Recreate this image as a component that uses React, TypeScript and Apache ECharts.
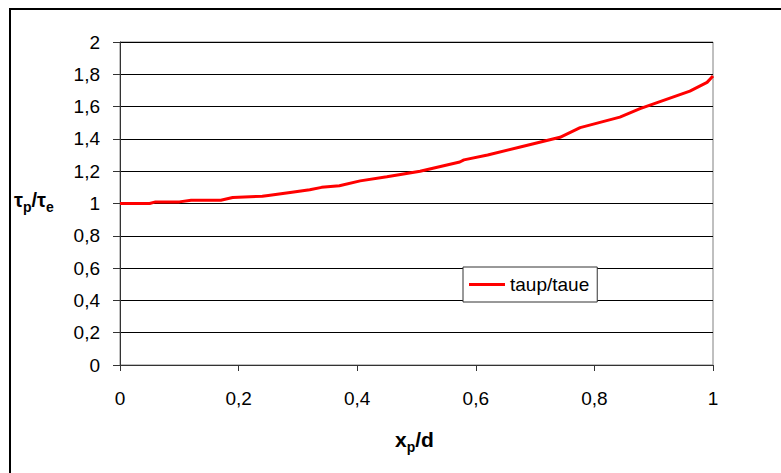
import React, { useEffect, useRef } from "react";
import * as echarts from "echarts";

const xValues = [0, 0.05, 0.06, 0.10, 0.12, 0.17, 0.19, 0.24, 0.25, 0.29, 0.32, 0.34, 0.37, 0.405, 0.45, 0.506, 0.573, 0.58, 0.62, 0.675, 0.742, 0.776, 0.843, 0.877, 0.961, 0.99, 1.0];
const yValues = [1.0, 1.0, 1.01, 1.01, 1.02, 1.02, 1.037, 1.045, 1.05, 1.07, 1.085, 1.10, 1.11, 1.14, 1.165, 1.20, 1.257, 1.27, 1.30, 1.35, 1.41, 1.47, 1.535, 1.587, 1.696, 1.75, 1.79];
const seriesName = "taup/taue";

const FONT = "'Liberation Sans', Arial, sans-serif";
const fmt = (v: number) => String(Math.round(v * 10) / 10).replace(".", ",");

export default function App() {
  const ref = useRef<HTMLDivElement>(null);
  useEffect(() => {
    if (!ref.current) return;
    const chart = echarts.init(ref.current, undefined, { renderer: "svg" });
    const data = xValues.map((x, i) => [x, yValues[i]]);
    chart.setOption({
      animation: false,
      backgroundColor: "#fff",
      textStyle: { fontFamily: FONT },
      grid: { left: 120, right: 68, top: 42, bottom: 108, show: true, borderColor: "#808080", borderWidth: 1 },
      xAxis: {
        type: "value",
        min: 0,
        max: 1,
        interval: 0.2,
        axisLine: { show: true, lineStyle: { color: "#333", width: 1 } },
        axisTick: { show: true, length: 6, inside: false, lineStyle: { color: "#333" } },
        axisLabel: { margin: 24, fontSize: 19, color: "#000", fontFamily: FONT, formatter: fmt },
        splitLine: { show: false },
      },
      yAxis: {
        type: "value",
        min: 0,
        max: 2,
        interval: 0.2,
        axisLine: { show: true, lineStyle: { color: "#333", width: 1 } },
        axisTick: { show: true, length: 7, inside: false, lineStyle: { color: "#333" } },
        axisLabel: { margin: 20, fontSize: 19, color: "#000", fontFamily: FONT, formatter: fmt },
        splitLine: { show: true, lineStyle: { color: "#000", width: 1 } },
      },
      legend: {
        show: true,
        left: 463,
        top: 267,
        orient: "horizontal",
        backgroundColor: "#fff",
        borderColor: "#333",
        borderWidth: 1,
        borderRadius: 0,
        padding: [8, 8, 8, 6],
        itemWidth: 36,
        itemHeight: 3,
        itemGap: 5,
        icon: "rect",
        textStyle: { fontSize: 19, color: "#000", fontFamily: FONT, lineHeight: 19 },
        data: [{ name: seriesName, icon: "rect" }],
      },
      series: [
        {
          name: seriesName,
          type: "line",
          data,
          showSymbol: false,
          symbol: "none",
          smooth: false,
          lineStyle: { color: "#ff0000", width: 3 },
          itemStyle: { color: "#ff0000" },
        },
      ],
      graphic: [
        {
          type: "rect",
          shape: { x: 10, y: 9, width: 900, height: 600 },
          style: { fill: "none", stroke: "#000", lineWidth: 2 },
          silent: true,
        },
        {
          type: "text",
          left: 14,
          top: 190,
          style: {
            text: "{a|τ}{s|p}{a|/τ}{s|e}",
            fontFamily: FONT,
            rich: {
              a: { fontSize: 20, fontWeight: "bold", fontFamily: FONT, fill: "#000", verticalAlign: "bottom", lineHeight: 22 },
              s: { fontSize: 14, fontWeight: "bold", fontFamily: FONT, fill: "#000", verticalAlign: "bottom", lineHeight: 16, padding: [0, 0, -4, 0] },
            },
          },
        },
        {
          type: "text",
          left: 395,
          top: 429,
          style: {
            text: "{a|x}{s|p}{a|/d}",
            fontFamily: FONT,
            rich: {
              a: { fontSize: 21, fontWeight: "bold", fontFamily: FONT, fill: "#000", verticalAlign: "bottom", lineHeight: 24 },
              s: { fontSize: 14, fontWeight: "bold", fontFamily: FONT, fill: "#000", verticalAlign: "bottom", lineHeight: 16, padding: [0, 0, -4, 0] },
            },
          },
        },
      ],
    });
    return () => chart.dispose();
  }, []);
  return <div ref={ref} style={{ position: "fixed", left: 0, top: 0, width: 781, height: 473 }} />;
}
